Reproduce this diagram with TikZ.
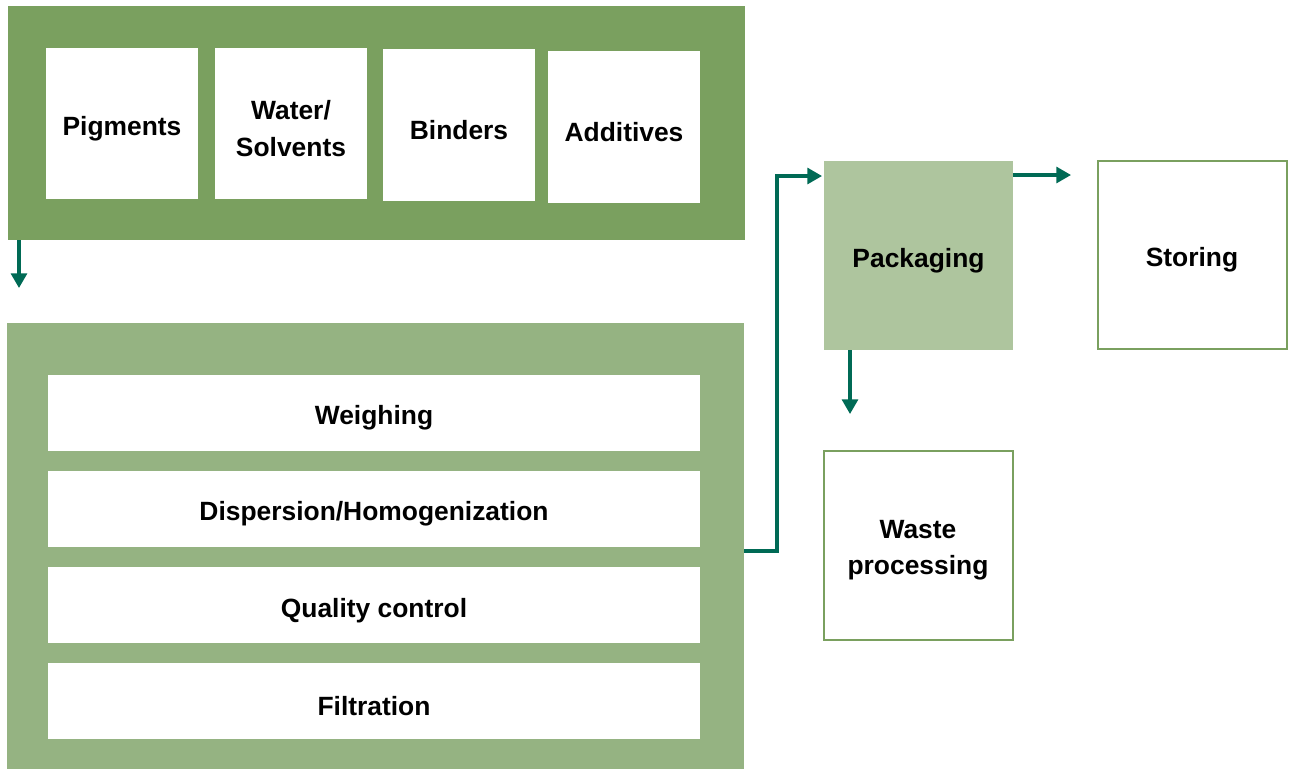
\documentclass[tikz,border=0pt]{standalone}
\usepackage{fontspec}
\setmainfont{Liberation Sans}
\usetikzlibrary{arrows.meta}
\definecolor{topgreen}{HTML}{7AA05F}
\definecolor{midgreen}{HTML}{95B382}
\definecolor{lightgreen}{HTML}{AEC59E}
\definecolor{arrowc}{HTML}{006A55}
\begin{document}
\begin{tikzpicture}[x=0.75pt,y=-0.75pt,
  lbl/.style={font=\fontsize{19.8}{27.7}\selectfont\bfseries, align=center, text=black, inner sep=0pt, yshift=-3.9pt},
  wbox/.style={fill=white, draw=none, inner sep=0pt},
  conn/.style={draw=arrowc, line width=2.3pt, -{Triangle[length=11pt,width=12pt]}}]
\useasboundingbox (0,0) rectangle (1290,769);
% containers
\fill[topgreen] (8,6) rectangle (745,240);
\fill[midgreen] (7,323) rectangle (744,769);
\coordinate (topsrc) at (19,240);
\coordinate (topdst) at (19,288);
% top boxes
\node[wbox, minimum width=152*0.75pt, minimum height=151*0.75pt, label={[lbl]center:{Pigments}}] (pig) at (122,123.5) {};
\node[wbox, minimum width=152*0.75pt, minimum height=151*0.75pt, label={[lbl]center:{Water/\\Solvents}}] (wat) at (291,123.5) {};
\node[wbox, minimum width=152*0.75pt, minimum height=152*0.75pt, label={[lbl]center:{Binders}}] (bin) at (459,125) {};
\node[wbox, minimum width=152*0.75pt, minimum height=152*0.75pt, label={[lbl]center:{Additives}}] (add) at (624,127) {};
% bottom rows
\node[wbox, minimum width=652*0.75pt, minimum height=76*0.75pt, label={[lbl]center:{Weighing}}] (wei) at (374,413) {};
\node[wbox, minimum width=652*0.75pt, minimum height=76*0.75pt, label={[lbl]center:{Dispersion/Homogenization}}] (dis) at (374,509) {};
\node[wbox, minimum width=652*0.75pt, minimum height=76*0.75pt, label={[lbl]center:{Quality control}}] (qua) at (374,605) {};
\node[wbox, minimum width=652*0.75pt, minimum height=76*0.75pt, label={[lbl]center:{Filtration}}] (fil) at (374,701) {};
% right side
\node[fill=lightgreen, draw=none, minimum width=189*0.75pt, minimum height=189*0.75pt, inner sep=0pt, label={[lbl]center:{Packaging}}] (pack) at (918.5,255.5) {};
\node[fill=white, draw=topgreen, line width=1.5pt, minimum width=189*0.75pt, minimum height=188*0.75pt, inner sep=0pt, label={[lbl]center:{Storing}}] (stor) at (1192,254.5) {};
\node[fill=white, draw=topgreen, line width=1.5pt, minimum width=189*0.75pt, minimum height=189*0.75pt, inner sep=0pt, label={[lbl]center:{Waste\\processing}}] (waste) at (918,545) {};
\coordinate (procout) at (744,551);
\coordinate (packin) at (822,176);
\coordinate (packout) at (1013,175);
\coordinate (storin) at (1071,175);
\coordinate (packbot) at (850,350);
\coordinate (wastein) at (850,414);
% connectors
\draw[conn] (topsrc) -- (topdst);
\draw[conn] (procout) -- (777,551) -- (777,176) -- (packin);
\draw[conn] (packout) -- (storin);
\draw[conn] (packbot) -- (wastein);
\end{tikzpicture}
\end{document}
